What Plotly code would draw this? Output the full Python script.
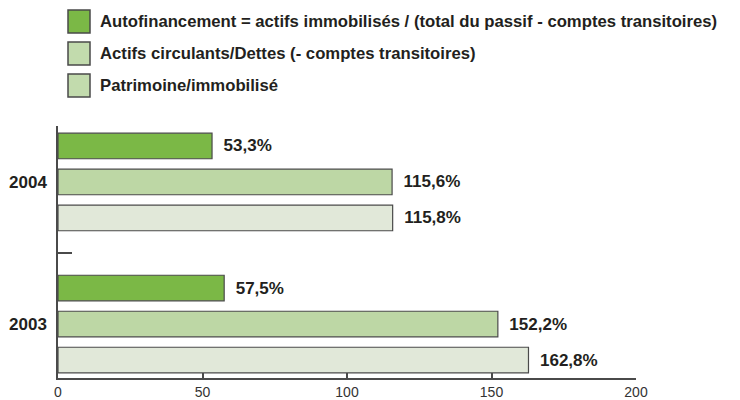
import plotly.graph_objects as go

# --- data ---
years = ["2004", "2003"]
series_names = [
    "Autofinancement = actifs immobilisés / (total du passif - comptes transitoires)",
    "Actifs circulants/Dettes (- comptes transitoires)",
    "Patrimoine/immobilisé",
]
autofinancement = [53.3, 57.5]
actifs_circulants = [115.6, 152.2]
patrimoine = [115.8, 162.8]
x_ticks = [0, 50, 100, 150, 200]

bar_colors = ["#7bb846", "#bdd7a5", "#e1e8d9"]
legend_colors = ["#7bb846", "#c2dbad", "#c2dbad"]
edge = "#4a4a4a"
ink = "#231f20"

# page body adds an 8px margin, so the figure is drawn 8px smaller
W, H = 732, 392
L, R, T, B = 50, 104, 118, 22

fig = go.Figure()
for name, vals, col in zip(series_names, [autofinancement, actifs_circulants, patrimoine], bar_colors):
    fig.add_trace(go.Bar(
        y=years, x=vals, name=name, orientation="h",
        marker=dict(color=col, line=dict(color=edge, width=1.2)),
        texttemplate="\u2002%{x:.1f}%", textposition="outside",
        textfont=dict(family="Liberation Sans", size=17, color=ink, weight="bold"),
        cliponaxis=False, showlegend=False, hoverinfo="skip",
    ))

# hand-drawn legend (large swatches like the original)
def px_x(px):
    return (px - L) / (W - L - R)

def px_y(py):
    return (H - B - py) / (H - T - B)

row_centers = [13.5, 45.5, 77.5]
for name, col, cy in zip(series_names, legend_colors, row_centers):
    fig.add_shape(type="rect", xref="paper", yref="paper",
                  x0=px_x(60), x1=px_x(82), y0=px_y(cy + 11.5), y1=px_y(cy - 11.5),
                  fillcolor=col, line=dict(color=edge, width=1.5))
    fig.add_annotation(xref="paper", yref="paper", x=px_x(90), y=px_y(cy),
                       xanchor="left", yanchor="middle", showarrow=False, text=name,
                       font=dict(family="Liberation Sans", size=16.7, color=ink, weight="bold"))

fig.update_layout(
    template="none",
    width=W, height=H,
    margin=dict(l=L, r=R, t=T, b=B),
    barmode="group", bargap=0.24, bargroupgap=0.29,
    separators=", ",
    paper_bgcolor="white", plot_bgcolor="white",
    showlegend=False,
    xaxis=dict(range=[0, 200], tickvals=x_ticks, ticks="inside", ticklen=5,
               tickcolor=edge, tickwidth=1.5, showline=True, linecolor=edge, linewidth=1.5,
               showgrid=False, zeroline=False, automargin=False,
               tickfont=dict(family="Liberation Sans", size=14, color="#333333")),
    yaxis=dict(type="category", categoryorder="array", categoryarray=years,
               range=[1.38, -0.394], tickson="boundaries", ticks="inside", ticklen=14,
               tickcolor=edge, tickwidth=1.5, showline=True, linecolor=edge, linewidth=1.5,
               showgrid=False, zeroline=False, automargin=False, ticklabelstandoff=6,
               tickfont=dict(family="Liberation Sans", size=17, color=ink, weight="bold")),
)

fig.write_html("out.html")
